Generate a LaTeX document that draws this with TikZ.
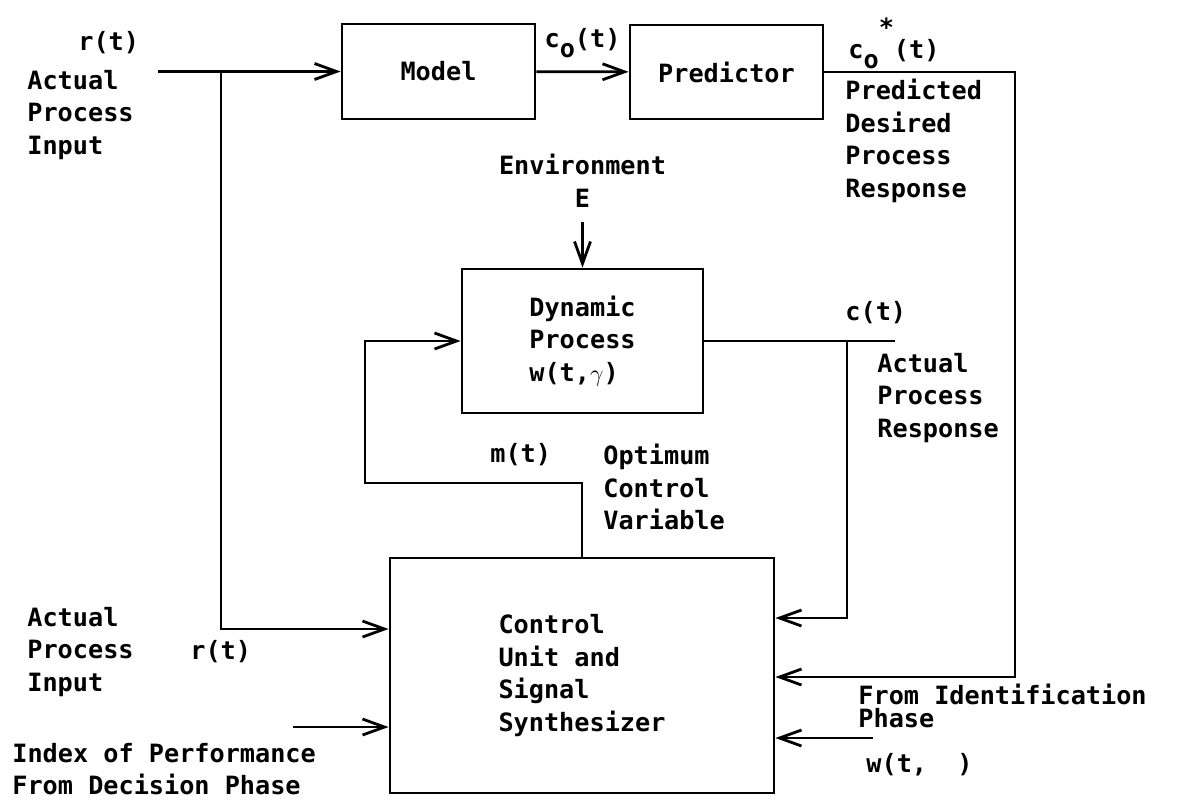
\documentclass[tikz,border=0pt]{standalone}
\usepackage{fontspec}
\setmonofont{DejaVu Sans Mono}
\usepackage{tikz}
\usetikzlibrary{arrows.meta, calc}

\begin{document}
\begin{tikzpicture}[
    x=0.5pt, y=-0.5pt,
    font=\ttfamily\bfseries\fontsize{12.6}{16.3}\selectfont,
    block/.style={draw, line width=1.4pt, inner sep=2pt},
    arrow/.style={-{Straight Barb[length=11pt, width=8pt, line width=1.4pt]}, line width=1.4pt},
    wire/.style={line width=1.4pt},
    txt/.style={inner sep=0pt, align=left},
    lbl/.style={txt, anchor=west}
]
\useasboundingbox (0,0) rectangle (1178,805);
% Blocks
\node[block, minimum width=96.5pt, minimum height=47.5pt] (model) at (438.5,71.5) {Model};
\node[block, minimum width=96.5pt, minimum height=47pt] (pred) at (726.5,72) {Predictor};
\node[block, minimum width=120.5pt, minimum height=72pt, align=left] (dyn) at (582.5,341) {Dynamic\\Process\\w(t,{\large$\gamma$})};
\node[block, minimum width=192pt, minimum height=117.5pt, align=left] (ctrl) at (582,675.5) {Control\\Unit and\\Signal\\Synthesizer};
% Labels
\node[lbl] (rtop) at (78,43) {r(t)};
\node[lbl] (intop) at (27,115) {Actual\\Process\\Input};
\node[lbl] (costar) at (848,43) {c\raisebox{-5pt}{o}\raisebox{11pt}{*}(t)};
\node[lbl] (desired) at (845,141) {Predicted\\Desired\\Process\\Response};
\node[txt, align=center] (env) at (582.5,181) {Environment\\E};
\node[lbl] (ct) at (845,313) {c(t)};
\node[lbl] (actresp) at (877,398) {Actual\\Process\\Response};
\node[lbl] (mt) at (490,455) {m(t)};
\node[lbl] (optvar) at (603,487) {Optimum\\Control\\Variable};
\node[lbl] (inlow) at (27,652) {Actual\\Process\\Input};
\node[lbl] (rlow) at (190,652) {r(t)};
\node[lbl] (index) at (12,769) {Index of Performance\\From Decision Phase};
\node[lbl] (ident) at (858,706) {From Identification\\[-5pt]Phase};
\node[lbl] (wlbl) at (866,765) {w(t,\ \ )};
% Points and ports
\coordinate (rin) at (158,71.5);
\coordinate (rsplit) at (221,71.5);
\coordinate (pcorner) at (1015,72);
\coordinate (cend) at (895,341);
\coordinate (csplit) at (847,341);
\coordinate (mcorner) at (365,483);
\coordinate (perf) at (293,727);
\coordinate (wid) at (873,738);
\coordinate (cl1) at ($(ctrl.west)+(0,-46.5)$);
\coordinate (cl2) at ($(ctrl.west)+(0,51.5)$);
\coordinate (cr1) at ($(ctrl.east)+(0,-57.5)$);
\coordinate (cr2) at ($(ctrl.east)+(0,1.5)$);
\coordinate (cr3) at ($(ctrl.east)+(0,62.5)$);
% Arrows
\draw[arrow] (rin) -- (model);
\draw[arrow] (rsplit) |- (cl1);
\draw[arrow] (model) -- node[above=3pt] {c\raisebox{-5pt}{o}(t)} (pred);
\draw[arrow] (pred) -- (pcorner) |- (cr2);
\draw[arrow, shorten <=7pt] (env) -- (dyn);
\draw[wire] (dyn) -- (cend);
\draw[arrow] (csplit) |- (cr1);
\draw[arrow] (ctrl.north) |- (mcorner) |- (dyn.west);
\draw[arrow] (perf) -- (cl2);
\draw[arrow] (wid) -- (cr3);
\end{tikzpicture}
\end{document}
